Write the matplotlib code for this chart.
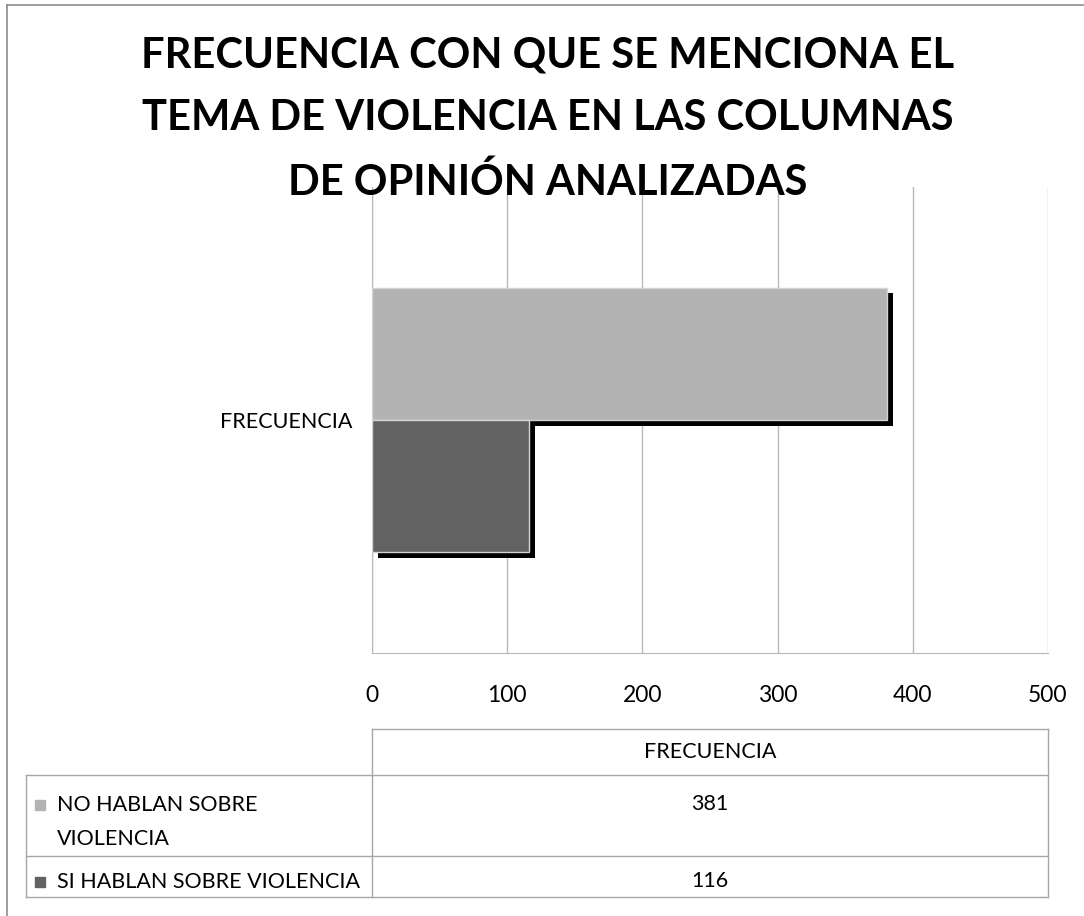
import matplotlib
matplotlib.use("Agg")
import matplotlib.pyplot as plt
import matplotlib.patheffects as pe

plt.rcParams['font.family'] = ['Lato', 'DejaVu Sans']

# data
category = "FRECUENCIA"
series = ["NO HABLAN SOBRE\nVIOLENCIA", "SI HABLAN SOBRE VIOLENCIA"]
values = [381, 116]
colors = ["#b3b3b3", "#626262"]
xticks = [0, 100, 200, 300, 400, 500]
title = "FRECUENCIA CON QUE SE MENCIONA EL\nTEMA DE VIOLENCIA EN LAS COLUMNAS\nDE OPINIÓN ANALIZADAS"

W, H = 1084, 916
fig = plt.figure(figsize=(W / 100, H / 100), dpi=100)

# overlay in pixel coords for border + data table
ov = fig.add_axes([0, 0, 1, 1])
ov.set_xlim(0, W)
ov.set_ylim(H, 0)
ov.axis("off")
ov.patch.set_alpha(0)

grid_c = "#b9b9b9"
line_c = "#a6a6a6"

# outer chart border (right/bottom fall outside the picture)
ov.plot([7, 7], [5, H + 5], color="#8c8c8c", lw=1.2)
ov.plot([7, W + 5], [5, 5], color="#8c8c8c", lw=1.2)

# main axes
L, R, T, B = 372, 1048, 187, 653
ax = fig.add_axes([L / W, 1 - B / H, (R - L) / W, (B - T) / H])
ax.patch.set_alpha(0)
ax.set_xlim(0, 500)
ax.set_ylim(-0.5, 0.5)

bar_h = 0.284
shadow = [pe.SimplePatchShadow(offset=(4.2, -4.2), shadow_rgbFace="black", alpha=1.0), pe.Normal()]
for i, (v, c) in enumerate(zip(values, colors)):
    y = bar_h / 2 - i * bar_h
    ax.barh(y, v, height=bar_h, color=c, edgecolor="#d4d4d4", linewidth=1.0,
            path_effects=shadow, zorder=3)

ax.set_axisbelow(True)
ax.grid(axis="x", color=grid_c, lw=1.0)
ax.set_xticks(xticks)
ax.set_xticklabels([str(t) for t in xticks], fontsize=16.5)
ax.set_yticks([0])
ax.set_yticklabels([category], fontsize=15.5)
ax.tick_params(axis="x", length=0, pad=23)
ax.tick_params(axis="y", length=0, pad=14)
for s in ["top", "right"]:
    ax.spines[s].set_visible(False)
ax.spines["left"].set_color(grid_c)
ax.spines["bottom"].set_color(grid_c)

# title
fig.text(548 / W, 1 - 119 / H, title, ha="center", va="center", fontsize=30,
         fontweight="bold", linespacing=1.78, zorder=10)

# data table below the axis
TL = 26
rows = [729, 775, 856, 897]
ov.plot([L, R], [rows[0], rows[0]], color=line_c, lw=1)
for y in rows[1:]:
    ov.plot([TL, R], [y, y], color=line_c, lw=1)
ov.plot([TL, TL], [rows[1], rows[3]], color=line_c, lw=1)
ov.plot([L, L], [rows[0], rows[3]], color=line_c, lw=1)
ov.plot([R, R], [rows[0], rows[3]], color=line_c, lw=1)

ov.text((L + R) / 2, (rows[0] + rows[1]) / 2, category, ha="center", va="center", fontsize=15.5)
text_y = [805, 882]
for name, v, c, ty in zip(series, values, colors, text_y):
    ov.add_patch(plt.Rectangle((35, ty - 5), 10, 10, color=c))
    ov.text(57, ty - 10, name, ha="left", va="top", fontsize=15.5, linespacing=1.85)
    ov.text((L + R) / 2, ty - 1, str(v), ha="center", va="center", fontsize=15.5)

fig.savefig("out.png", dpi=100, facecolor="white")
